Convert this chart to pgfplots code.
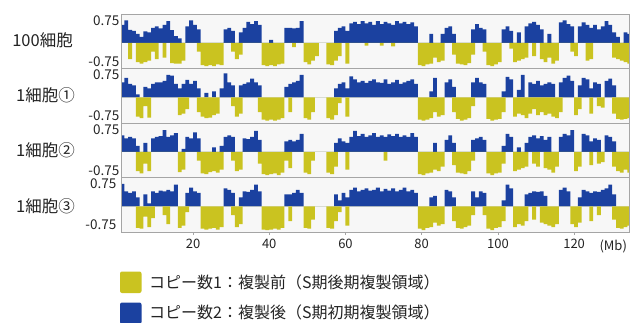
\documentclass[border=0pt]{standalone}
\usepackage{pgfplots}
\pgfplotsset{compat=1.18}
\usepackage{pgfplotstable}
\usepackage{fontspec}
\setmainfont{Noto Sans CJK JP}
\definecolor{cyel}{RGB}{202,195,32}
\definecolor{cblu}{RGB}{27,65,160}
\definecolor{framec}{RGB}{165,165,165}
\definecolor{bgp}{RGB}{247,247,247}
\definecolor{txt}{RGB}{35,35,35}

% columns: x (Mb, bin start), u = copy number 2 signal (blue), d = copy number 1 signal (yellow)
\pgfplotstableread{
x u d
1 0.6 0
2 0.75 0
3 0.43 -0.55
4 0.4 0
5 0.3 -0.65
6 0.2 -0.7
7 0.38 -0.65
8 0.35 -0.6
9 0.5 -0.3
10 0.55 -0.55
11 0.48 0
12 0.6 -0.5
13 0.72 0
14 0.42 -0.68
15 0.22 -0.7
16 0.15 -0.7
17 0 -0.6
18 0.55 0
19 0.75 0
20 0.6 0
21 0.45 -0.3
22 0 -0.75
23 0 -0.78
24 0 -0.75
25 0 -0.78
26 0 -0.72
27 0 -0.75
28 0.45 0
29 0.5 0
30 0.4 -0.3
31 0 -0.55
32 0.35 -0.4
33 0.5 0
34 0.7 0
35 0.62 0
36 0.72 0
37 0.6 0
38 0 -0.75
39 0 -0.78
40 0.1 -0.75
41 0 -0.78
42 0 -0.72
43 0 -0.7
44 0.5 0
45 0.5 0
46 0.48 -0.15
47 0.5 0
48 0.72 0
49 0 -0.65
50 0 -0.72
51 0 -0.6
52 0 -0.45
53 0 0
54 0 0
55 0 -0.72
56 0 -0.75
57 0.4 -0.6
58 0.5 -0.45
59 0.55 0
60 0.4 -0.7
61 0.65 0
62 0.7 0
63 0.62 0
64 0.72 0
65 0.65 -0.1
66 0.7 0
67 0.6 0
68 0.72 0
69 0.62 -0.1
70 0.7 0
71 0.65 0
72 0.6 -0.12
73 0.72 0
74 0.65 0
75 0.7 0
76 0.62 0
77 0.68 0
78 0.55 0
79 0 -0.75
80 0 -0.78
81 0 -0.72
82 0.3 -0.7
83 0 -0.5
84 0 -0.65
85 0.3 -0.6
86 0.5 0
87 0.55 0
88 0.3 -0.4
89 0 -0.7
90 0 -0.72
91 0 -0.75
92 0 -0.68
93 0.45 -0.4
94 0.62 0
95 0.5 0
96 0.45 -0.3
97 0 -0.75
98 0 -0.78
99 0 -0.72
100 0 -0.65
101 0.45 0
102 0.55 0
103 0.4 -0.2
104 0 -0.65
105 0.35 -0.6
106 0 -0.55
107 0.55 -0.5
108 0.65 0
109 0.7 -0.45
110 0.6 0
111 0.45 -0.55
112 0 -0.65
113 0.3 -0.5
114 0 -0.7
115 0 -0.6
116 0.68 0
117 0.75 0
118 0.62 0
119 0.55 -0.3
120 0 -0.45
121 0.55 0
122 0.68 0
123 0.6 -0.6
124 0.5 -0.55
125 0.6 0
126 0.45 0
127 0.55 0
128 0.72 0
129 0.6 0
130 0.35 -0.5
131 0.2 -0.55
132 0 -0.6
133 0.35 -0.65
134 0.3 -0.7
135 0 0
}\pone

\pgfplotstableread{
x u d
1 0.5 0
2 0.65 0
3 0.45 0
4 0.4 0
5 0.1 -0.65
6 0 -0.7
7 0.35 -0.3
8 0.3 -0.68
9 0.45 0
10 0.5 0
11 0.5 0
12 0.55 0
13 0.75 0
14 0.72 0
15 0.45 0
16 0.3 -0.6
17 0.45 -0.55
18 0.58 -0.4
19 0.45 0
20 0.55 0
21 0.3 -0.5
22 0 -0.65
23 0.15 -0.7
24 0 -0.68
25 0.2 -0.6
26 0 -0.55
27 0.3 0
28 0.8 0
29 0.5 0
30 0.4 -0.3
31 0 -0.65
32 0.4 -0.55
33 0.45 0
34 0.5 0
35 0.62 0
36 0.5 0
37 0.4 -0.5
38 0 -0.75
39 0 -0.78
40 0 -0.75
41 0 -0.78
42 0 -0.75
43 0 -0.7
44 0.35 0
45 0.45 -0.5
46 0.5 0
47 0.55 0
48 0.75 0
49 0 -0.7
50 0 -0.75
51 0 -0.5
52 0 0
53 0 0
54 0 0
55 0 -0.7
56 0 -0.75
57 0.3 -0.6
58 0.45 -0.2
59 0.5 0
60 0.3 -0.65
61 0.7 0
62 0.6 0
63 0.5 0
64 0.55 0
65 0.48 0
66 0.55 0
67 0.6 0
68 0.5 0
69 0.48 0
70 0.6 0
71 0.45 0
72 0.5 0
73 0.58 0
74 0.45 0
75 0.5 0
76 0.55 0
77 0.6 0
78 0.45 0
79 0 -0.75
80 0 -0.78
81 0 -0.75
82 0.2 -0.7
83 0.65 -0.5
84 0 -0.65
85 0 -0.6
86 0.5 0
87 0.6 0
88 0.35 -0.5
89 0 -0.72
90 0 -0.78
91 0 -0.75
92 0 -0.7
93 0.5 -0.3
94 0.65 0
95 0.5 0
96 0.45 0
97 0 -0.72
98 0 -0.78
99 0 -0.75
100 0 -0.72
101 0.2 -0.5
102 0.68 0
103 0.6 0
104 0 -0.65
105 0.25 -0.55
106 0.75 -0.6
107 0 -0.7
108 0.5 -0.55
109 0.45 -0.4
110 0.55 -0.6
111 0.4 -0.5
112 0.45 -0.6
113 0.5 -0.55
114 0.45 -0.65
115 0 -0.7
116 0.5 -0.5
117 0.65 0
118 0.72 0
119 0.55 0
120 0 -0.6
121 0.4 -0.4
122 0.65 0
123 0.6 0
124 0.3 -0.55
125 0.5 0
126 0.45 -0.3
127 0 -0.35
128 0.55 0
129 0.62 0
130 0.4 -0.55
131 0 -0.72
132 0 -0.75
133 0 -0.72
134 0 -0.7
135 0 0
}\ptwo

\pgfplotstableread{
x u d
1 0.55 0
2 0.45 0
3 0.5 0
4 0.45 0
5 0.2 -0.65
6 0 -0.72
7 0.3 -0.4
8 0 -0.65
9 0.45 0
10 0.5 0
11 0.52 0
12 0.72 0
13 0.5 0
14 0.55 0
15 0.62 0
16 0 -0.68
17 0.1 -0.6
18 0.5 0
19 0.45 0
20 0.65 0
21 0.45 -0.3
22 0 -0.72
23 0 -0.75
24 0 -0.68
25 0.15 -0.65
26 0 -0.7
27 0.2 -0.6
28 0.5 0
29 0.55 0
30 0.5 -0.3
31 0 -0.65
32 0 -0.6
33 0.45 0
34 0.42 0
35 0.5 0
36 0.7 0
37 0.4 -0.4
38 0 -0.75
39 0 -0.78
40 0 -0.75
41 0 -0.72
42 0 -0.78
43 0 -0.7
44 0.35 -0.3
45 0.4 -0.55
46 0.35 0
47 0.4 0
48 0.6 0
49 0 -0.7
50 0 -0.75
51 0 -0.3
52 0 0
53 0 0
54 0 0
55 0 -0.7
56 0 -0.75
57 0.3 -0.5
58 0.45 0
59 0.35 0
60 0.3 -0.6
61 0.5 0
62 0.7 0
63 0.52 0
64 0.6 0
65 0.5 0
66 0.55 0
67 0.62 0
68 0.5 0
69 0.55 0
70 0.5 -0.3
71 0.58 0
72 0.52 0
73 0.6 0
74 0.5 0
75 0.55 0
76 0.5 0
77 0.62 0
78 0.5 0
79 0 -0.75
80 0 -0.78
81 0 -0.72
82 0 -0.7
83 0.3 -0.6
84 0 -0.65
85 0 -0.5
86 0.4 0
87 0.55 0
88 0.3 -0.45
89 0 -0.7
90 0 -0.72
91 0 -0.75
92 0 -0.65
93 0.4 -0.3
94 0.45 0
95 0.5 0
96 0.4 0
97 0 -0.72
98 0 -0.78
99 0 -0.72
100 0 -0.7
101 0.2 -0.4
102 0.6 0
103 0.5 0
104 0 -0.65
105 0.15 -0.6
106 0 -0.55
107 0.3 -0.5
108 0.5 0
109 0.55 -0.4
110 0.45 -0.5
111 0.52 0
112 0.4 -0.55
113 0.5 -0.6
114 0 -0.7
115 0 -0.5
116 0.5 0
117 0.6 0
118 0.55 0
119 0.72 0
120 0 -0.65
121 0 -0.5
122 0.6 0
123 0.55 0
124 0.35 -0.45
125 0.45 0
126 0.4 -0.4
127 0 -0.35
128 0.55 0
129 0.5 0
130 0.35 -0.5
131 0 -0.65
132 0 -0.7
133 0 -0.6
134 0 -0.7
135 0 0
}\pthree

\pgfplotstableread{
x u d
1 0.75 0
2 0.5 0
3 0.45 0
4 0.5 0
5 0.3 -0.72
6 0 -0.75
7 0.4 -0.35
8 0.1 -0.7
9 0.5 -0.4
10 0.45 0
11 0.52 0
12 0.5 -0.3
13 0.55 -0.6
14 0.5 0
15 0.72 0
16 0 -0.72
17 0 -0.65
18 0.45 -0.2
19 0.62 0
20 0.5 0
21 0.45 0
22 0 -0.75
23 0 -0.78
24 0 -0.75
25 0 -0.72
26 0 -0.78
27 0 -0.7
28 0.6 0
29 0.55 0
30 0.45 -0.3
31 0 -0.7
32 0.3 -0.6
33 0.5 0
34 0.48 0
35 0.55 0
36 0.72 0
37 0.5 0
38 0 -0.78
39 0 -0.8
40 0 -0.78
41 0 -0.75
42 0 -0.78
43 0 -0.72
44 0.4 0
45 0.4 -0.5
46 0.45 0
47 0.55 0
48 0.45 0
49 0 -0.72
50 0 -0.75
51 0 -0.45
52 0 0
53 0 0
54 0 0
55 0 -0.72
56 0 -0.75
57 0.4 -0.5
58 0.2 -0.2
59 0.45 0
60 0.3 -0.65
61 0.55 0
62 0.62 0
63 0.5 0
64 0.55 0
65 0.6 0
66 0.52 0
67 0.55 0
68 0.62 0
69 0.5 0
70 0.58 0
71 0.52 0
72 0.6 0
73 0.5 0
74 0.55 0
75 0.62 0
76 0.5 0
77 0.55 0
78 0.45 0
79 0 -0.75
80 0 -0.8
81 0 -0.72
82 0.3 -0.7
83 0.35 -0.55
84 0 -0.65
85 0 -0.6
86 0.55 0
87 0.5 0
88 0.3 -0.5
89 0 -0.72
90 0 -0.75
91 0 -0.7
92 0 -0.65
93 0.5 -0.3
94 0.3 0
95 0.5 0
96 0.45 -0.3
97 0 -0.75
98 0 -0.8
99 0 -0.72
100 0 -0.7
101 0.2 -0.5
102 0.72 0
103 0.6 0
104 0 -0.7
105 0 -0.6
106 0 -0.65
107 0.4 -0.5
108 0.45 0
109 0.5 -0.45
110 0.48 0
111 0.5 -0.55
112 0.35 -0.6
113 0 -0.65
114 0 -0.7
115 0 -0.6
116 0.55 0
117 0.62 0
118 0.5 0
119 0 -0.6
120 0 -0.7
121 0.3 -0.55
122 0.55 0
123 0.5 0
124 0.45 -0.5
125 0.5 0
126 0.48 -0.3
127 0.55 0
128 0.6 0
129 0.72 0
130 0.4 -0.45
131 0 -0.72
132 0 -0.75
133 0 -0.7
134 0 -0.65
135 0 0
}\pfour

\pgfplotsset{
  panel/.style={
    scale only axis, width=508pt, height=54.5pt,
    anchor=north west,
    xmin=1.1, xmax=134.4, ymin=-0.86, ymax=0.96,
    ytick={0.75}, yticklabels={0.75},
    extra y ticks={-0.75}, extra y tick labels={-0.75},
    extra y tick style={yticklabel style={yshift=3.8pt}},
    ytick style={draw=none},
    xtick=\empty,
    axis on top,
    axis line style={framec, line width=0.9pt},
    axis background/.style={fill=bgp},
    yticklabel style={font=\fontsize{13.5}{14}\selectfont, text=txt, inner sep=1.5pt},
  },
}

\begin{document}
\begin{tikzpicture}
\path[use as bounding box] (0pt,0pt) rectangle (630pt,-322pt);

\begin{axis}[panel, at={(121pt,-14pt)}]
  \addplot[ybar interval, fill=cblu, draw=none] table[x=x, y=u] {\pone};
  \addplot[ybar interval, fill=cyel, draw=none] table[x=x, y=d] {\pone};
\end{axis}
\begin{axis}[panel, at={(121pt,-68.5pt)}]
  \addplot[ybar interval, fill=cblu, draw=none] table[x=x, y=u] {\ptwo};
  \addplot[ybar interval, fill=cyel, draw=none] table[x=x, y=d] {\ptwo};
\end{axis}
\begin{axis}[panel, at={(121pt,-123pt)}]
  \addplot[ybar interval, fill=cblu, draw=none] table[x=x, y=u] {\pthree};
  \addplot[ybar interval, fill=cyel, draw=none] table[x=x, y=d] {\pthree};
\end{axis}
\begin{axis}[panel, at={(121pt,-177.5pt)},
    xtick={20,40,60,80,100,120}, xticklabels={20,40,60,80,100,120},
    xtick style={draw=framec, line width=0.7pt},
    tick align=outside, xtick pos=bottom, major tick length=3pt,
    xticklabel style={font=\fontsize{13}{14}\selectfont, text=txt, yshift=-1pt}]
  \addplot[ybar interval, fill=cblu, draw=none] table[x=x, y=u] {\pfour};
  \addplot[ybar interval, fill=cyel, draw=none] table[x=x, y=d] {\pfour};
\end{axis}

\node[anchor=west, text=txt, font=\fontsize{13}{14}\selectfont] at (596pt,-246pt) {(Mb)};

\node[anchor=east, text=txt, font=\fontsize{16.5}{17}\selectfont, inner sep=0pt] at (73pt,-40pt) {100細胞};
\node[anchor=east, text=txt, font=\fontsize{16.5}{17}\selectfont, inner sep=0pt] at (75pt,-95pt) {1細胞①};
\node[anchor=east, text=txt, font=\fontsize{16.5}{17}\selectfont, inner sep=0pt] at (75pt,-150pt) {1細胞②};
\node[anchor=east, text=txt, font=\fontsize{16.5}{17}\selectfont, inner sep=0pt] at (75pt,-206pt) {1細胞③};

\fill[cyel, rounded corners=2pt] (120pt,-271.5pt) rectangle (141.5pt,-293pt);
\fill[cblu, rounded corners=2pt] (120pt,-302.5pt) rectangle (141.5pt,-324pt);
\node[anchor=west, text=txt, font=\fontsize{16}{17}\selectfont, inner sep=0pt] at (149pt,-282pt) {コピー数1：複製前（S期後期複製領域）};
\node[anchor=west, text=txt, font=\fontsize{16}{17}\selectfont, inner sep=0pt] at (149pt,-312.5pt) {コピー数2：複製後（S期初期複製領域）};
\end{tikzpicture}
\end{document}
